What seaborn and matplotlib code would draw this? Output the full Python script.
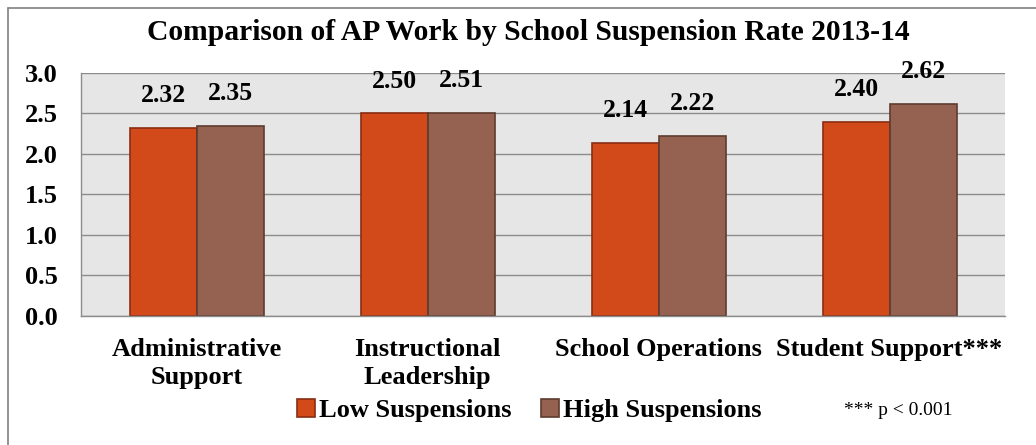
import matplotlib.pyplot as plt
import pandas as pd
import seaborn as sns
from matplotlib.lines import Line2D
from matplotlib.patches import Patch

# Chart data
categories = ["Administrative\nSupport", "Instructional\nLeadership", "School Operations", "Student Support***"]
series_names = ["Low Suspensions", "High Suspensions"]
low_values = [2.32, 2.50, 2.14, 2.40]
high_values = [2.35, 2.51, 2.22, 2.62]
y_ticks = [0.0, 0.5, 1.0, 1.5, 2.0, 2.5, 3.0]

fill_colors = ["#D24A19", "#956252"]
edge_colors = ["#8A2E12", "#5E3B2F"]

df = pd.DataFrame({
    "category": categories * 2,
    "group": [series_names[0]] * 4 + [series_names[1]] * 4,
    "value": low_values + high_values,
})

sns.set_style("white")
plt.rcParams["font.family"] = ["Liberation Serif", "DejaVu Serif"]
plt.rcParams["text.color"] = "black"
plt.rcParams["xtick.labelcolor"] = "black"
plt.rcParams["ytick.labelcolor"] = "black"

fig = plt.figure(figsize=(10.36, 4.45), dpi=100)
ax = fig.add_axes([0.0782, 0.290, 0.892, 0.546])

sns.barplot(data=df, x="category", y="value", hue="group", order=categories,
            hue_order=series_names, palette=fill_colors, width=0.58, saturation=1,
            linewidth=1.2, ax=ax, legend=False)

# edge color per series
for container, ec in zip(ax.containers, edge_colors):
    for bar in container:
        bar.set_edgecolor(ec)
    ax.bar_label(container, fmt="%.2f", padding=15, fontsize=18.5, fontweight="bold")

ax.set_facecolor("#E6E6E6")
ax.set_ylim(0, 3.0)
ax.set_xlim(-0.5, 3.5)
ax.set_yticks(y_ticks)
ax.set_yticklabels([f"{t:.1f}" for t in y_ticks], fontsize=19, fontweight="bold")
ax.yaxis.grid(True, color="#8C8C8C", linewidth=1)
ax.set_axisbelow(True)
ax.tick_params(axis="y", length=0, pad=17)
ax.tick_params(axis="x", which="major", length=0, pad=16, labelsize=19)
for lbl in ax.get_xticklabels():
    lbl.set_fontweight("bold")
    lbl.set_linespacing(1.25)
ax.set_xticks([-0.5, 0.5, 1.5, 2.5, 3.5], minor=True)
ax.tick_params(axis="x", which="minor", length=6, color="#8C8C8C", direction="out")
ax.set_xlabel("")
ax.set_ylabel("")

for side in ["top", "right"]:
    ax.spines[side].set_visible(False)
for side in ["left", "bottom"]:
    ax.spines[side].set_color("#8C8C8C")
    ax.spines[side].set_linewidth(1)

fig.suptitle("Comparison of AP Work by School Suspension Rate 2013-14",
             x=0.51, y=0.957, fontsize=21.3, fontweight="bold")

# legend and footnote
handles = [Patch(facecolor=fc, edgecolor=ec, linewidth=1.2) for fc, ec in zip(fill_colors, edge_colors)]
fig.legend(handles, series_names, loc="center", bbox_to_anchor=(0.511, 0.078), ncol=2,
           frameon=False, prop={"weight": "bold", "size": 19}, handlelength=0.7,
           handleheight=0.7, handletextpad=0.15, columnspacing=1.1)
fig.text(0.867, 0.078, "*** p < 0.001", fontsize=14, ha="center", va="center")

# outer chart frame
fig.add_artist(Line2D([0.0077, 1.0], [0.982, 0.982], color="#808080", linewidth=1.2))
fig.add_artist(Line2D([0.0077, 0.0077], [0.0, 0.982], color="#808080", linewidth=1.2))

fig.savefig("out.png")
plt.close(fig)
